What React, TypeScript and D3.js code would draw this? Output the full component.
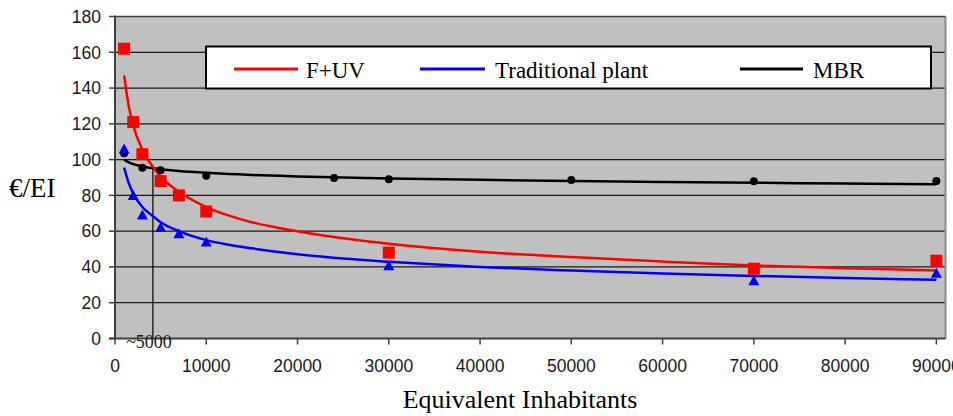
import React from "react";
import * as d3 from "d3";

const pointX = [1000, 2000, 3000, 5000, 7000, 10000, 30000, 70000, 90000];
const fuvPoints = [162, 121, 103, 88, 80, 71, 48, 39, 43.5];
const tradPoints = [106, 80, 69, 62, 58.5, 54, 40.7, 32.3, 36.5];
const mbrX = [1000, 3000, 5000, 10000, 24000, 30000, 50000, 70000, 90000];
const mbrPoints = [103.6, 95.5, 94, 91, 89.7, 89, 88.6, 87.9, 88];

const trendX = [1000, 1500, 2000, 3000, 4000, 5000, 7000, 10000, 12500, 15000, 20000, 25000, 30000, 40000, 50000, 60000, 70000, 80000, 90000];
const fuvTrend = [147, 130, 119, 105.5, 97, 90.5, 82, 73.5, 68.7, 65, 60, 56.1, 53, 48.5, 45.5, 43, 40.8, 39.3, 38];
const tradTrend = [95.5, 87, 81, 73.5, 69, 65, 60, 55, 52.4, 50.4, 47.1, 44.7, 42.9, 40, 38, 36.4, 35, 33.8, 32.8];
const mbrTrend = [100, 98.5, 97.5, 96.2, 95.3, 94.6, 93.6, 92.6, 92, 91.4, 90.6, 90, 89.5, 88.7, 88.0, 87.5, 87.1, 86.6, 86.2];

const xTicks = [0, 10000, 20000, 30000, 40000, 50000, 60000, 70000, 80000, 90000];
const yTicks = [0, 20, 40, 60, 80, 100, 120, 140, 160, 180];
const crossX = 4150;
const crossY = 95;

const legendItems = [
  { label: "F+UV", color: "#ff0000", x1: 234, x2: 298, tx: 306 },
  { label: "Traditional plant", color: "#0000ff", x1: 420, x2: 485, tx: 495 },
  { label: "MBR", color: "#000000", x1: 740, x2: 803, tx: 813 },
];

export default function App() {
  const left = 115, right = 945.5, top = 16.5, bottom = 338.5;
  const x = d3.scaleLinear().domain([0, 91000]).range([left, right]);
  const y = d3.scaleLinear().domain([0, 180]).range([bottom, top]);
  const line = d3
    .line<[number, number]>()
    .x((d) => x(d[0]))
    .y((d) => y(d[1]))
    .curve(d3.curveMonotoneX);
  const mk = (vals: number[]) => line(trendX.map((t, i) => [t, vals[i]] as [number, number])) || "";
  const sans = "'Liberation Sans', Arial, sans-serif";
  const serif = "'Liberation Serif', 'Times New Roman', serif";

  return (
    <svg width={953} height={416} style={{ position: "absolute", left: 0, top: 0, background: "#fff" }}>
      <rect x={left} y={top} width={right - left} height={bottom - top} fill="#c0c0c0" />
      {yTicks.filter((t) => t > 0).map((t) => (
        <line key={t} x1={left} x2={right} y1={y(t)} y2={y(t)} stroke="#1a1a1a" strokeWidth={1.2} />
      ))}
      <line x1={right} x2={right} y1={top} y2={bottom} stroke="#8a8a8a" strokeWidth={2} />
      <line x1={left} x2={right} y1={top} y2={top} stroke="#404040" strokeWidth={1.5} />
      {/* legend */}
      <rect x={206} y={46.5} width={725} height={42} fill="#fff" stroke="#000" strokeWidth={2} />
      {legendItems.map((l) => (
        <g key={l.label}>
          <line x1={l.x1} x2={l.x2} y1={69} y2={69} stroke={l.color} strokeWidth={3} />
          <text x={l.tx} y={78} fontFamily={serif} fontSize={23} fill="#000">{l.label}</text>
        </g>
      ))}
      {/* crossover marker */}
      <line x1={x(crossX)} x2={x(crossX)} y1={y(crossY)} y2={y(0)} stroke="#000" strokeWidth={1.2} />
      {/* trends */}
      <path d={mk(mbrTrend)} fill="none" stroke="#000" strokeWidth={2.5} />
      <path d={mk(tradTrend)} fill="none" stroke="#0000ff" strokeWidth={2.5} />
      <path d={mk(fuvTrend)} fill="none" stroke="#ff0000" strokeWidth={2.5} />
      {/* markers */}
      {mbrX.map((v, i) => (
        <circle key={"m" + i} cx={x(v)} cy={y(mbrPoints[i])} r={4} fill="#000" />
      ))}
      {pointX.map((v, i) => {
        const cx = x(v), cy = y(tradPoints[i]);
        return (
          <path key={"t" + i} d={`M${cx},${cy - 5.5}L${cx + 5.5},${cy + 4.5}L${cx - 5.5},${cy + 4.5}Z`} fill="#0000ff" />
        );
      })}
      {pointX.map((v, i) => (
        <rect key={"s" + i} x={x(v) - 6} y={y(fuvPoints[i]) - 6} width={12} height={12} fill="#ff0000" />
      ))}
      {/* axes */}
      <line x1={left} x2={left} y1={top - 1} y2={bottom} stroke="#404040" strokeWidth={2} />
      <line x1={left - 6} x2={right} y1={bottom} y2={bottom} stroke="#404040" strokeWidth={2} />
      {yTicks.map((t) => (
        <g key={"yt" + t}>
          <line x1={left - 6} x2={left} y1={y(t)} y2={y(t)} stroke="#404040" strokeWidth={1.5} />
          <text x={101} y={y(t)} dy="0.36em" textAnchor="end" fontFamily={sans} fontSize={17.5} fill="#1a1a1a">{t}</text>
        </g>
      ))}
      {xTicks.map((t) => (
        <g key={"xt" + t}>
          <line x1={x(t)} x2={x(t)} y1={bottom} y2={bottom + 6} stroke="#404040" strokeWidth={1.5} />
          <text x={x(t)} y={372} textAnchor="middle" fontFamily={sans} fontSize={17.5} fill="#1a1a1a">{t}</text>
        </g>
      ))}
      <text x={149} y={348} textAnchor="middle" fontFamily={serif} fontSize={18} fill="#1a1a1a">~5000</text>
      <text x={520} y={408} textAnchor="middle" fontFamily={serif} fontSize={26} fill="#000">Equivalent Inhabitants</text>
      <text x={9} y={197} fontFamily={serif} fontSize={27} fill="#000">€/EI</text>
    </svg>
  );
}
